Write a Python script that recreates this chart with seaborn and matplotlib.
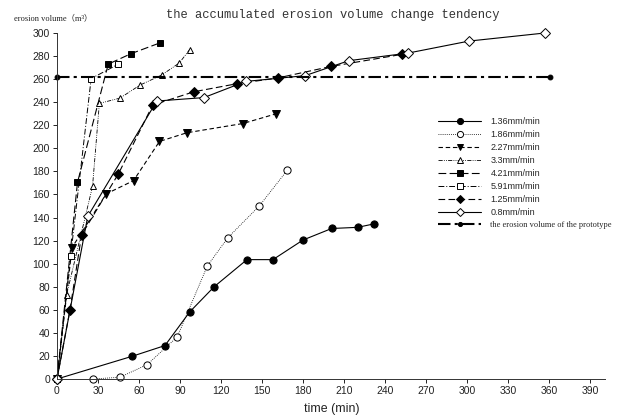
import numpy as np
import pandas as pd
import matplotlib
matplotlib.use("Agg")
import matplotlib.pyplot as plt
import seaborn as sns

# Accumulated erosion volume (m^3) against time (min) for each erosion rate
t_136 = [0, 55, 79, 97, 115, 139, 158, 180, 201, 220, 232]
v_136 = [0, 19.7, 29, 58, 80, 103.5, 103.5, 120.5, 130.5, 131.5, 134.5]

t_186 = [26, 46, 66, 88, 110, 125, 148, 168.5]
v_186 = [0, 1.5, 12.5, 36.5, 98, 122.5, 150, 181]

t_227 = [0, 11, 36, 56, 75, 95, 136, 160.5]
v_227 = [0, 114, 160.5, 172, 206, 213.5, 221.5, 230]

t_33 = [0, 7, 26, 31, 46, 61, 76.5, 89.5, 97]
v_33 = [0, 73, 167, 239, 243.5, 255, 263.5, 274, 285.5]

t_421 = [0, 15, 37.5, 54, 75.5]
v_421 = [0, 170.5, 273, 282, 291.5]

t_591 = [0, 10, 25, 45]
v_591 = [0, 107, 260.5, 273]

t_125 = [0, 9.5, 18, 45, 70, 100, 131.5, 161.5, 200.5, 252.5]
v_125 = [0, 60, 125, 178, 237.5, 249, 256, 261, 271, 281.5]

t_08 = [0, 22.5, 73, 107.5, 138, 181.5, 213.5, 256.5, 301.5, 357]
v_08 = [0, 141, 241, 244, 258, 263, 276, 282.5, 293, 300]

t_proto = [0, 361]
v_proto = [262, 262]

labels = ["1.36mm/min", "1.86mm/min", "2.27mm/min", "3.3mm/min", "4.21mm/min",
          "5.91mm/min", "1.25mm/min", "0.8mm/min",
          "the erosion volume of the prototype"]

x_ticks = list(range(0, 391, 30))
y_ticks = list(range(0, 301, 20))

series = [
    (t_136, v_136, dict(marker="o", ms=5.2, mfc="black", ls="-")),
    (t_186, v_186, dict(marker="o", ms=5.2, mfc="white", ls=(0, (1, 1.5)), lw=0.6)),
    (t_227, v_227, dict(marker="v", ms=5.2, mfc="black", ls=(0, (4, 2.5)))),
    (t_33, v_33, dict(marker="^", ms=4.8, mfc="white", ls=(0, (5, 1.5, 1, 1.5, 1, 1.5)), lw=0.6)),
    (t_421, v_421, dict(marker="s", ms=4.6, mfc="black", ls=(0, (7, 3)))),
    (t_591, v_591, dict(marker="s", ms=4.6, mfc="white", ls=(0, (6, 2, 1, 2)), lw=0.7)),
    (t_125, v_125, dict(marker="D", ms=4.6, mfc="black", ls=(0, (6, 3)))),
    (t_08, v_08, dict(marker="D", ms=4.6, mfc="white", ls="-")),
    (t_proto, v_proto, dict(marker="o", ms=3.5, mfc="black", ls=(0, (6, 2, 1.5, 2)), lw=1.5)),
]

sns.set_style("ticks")
plt.rcParams["font.family"] = ["Liberation Sans", "DejaVu Sans"]

fig = plt.figure(figsize=(6.24, 4.17), dpi=100)
ax = fig.add_axes([57 / 624, 1 - 379 / 417, (605 - 57) / 624, (379 - 33) / 417])

for (tx, vy, st), lab in zip(series, labels):
    df = pd.DataFrame({"time": tx, "volume": vy})
    sns.lineplot(data=df, x="time", y="volume", ax=ax, sort=False,
                 estimator=None, errorbar=None, color="black",
                 linestyle=st["ls"], linewidth=st.get("lw", 0.8),
                 marker=st["marker"], markersize=st["ms"],
                 markerfacecolor=st["mfc"], markeredgecolor="black",
                 markeredgewidth=0.7, clip_on=False, label=lab)

ax.set_xlim(0, 401)
ax.set_ylim(0, 300)
ax.set_xticks(x_ticks)
ax.set_yticks(y_ticks)
ax.tick_params(axis="both", labelsize=7.5, length=3, width=0.7,
               colors="#222222", pad=2)
for s in ("top", "right"):
    ax.spines[s].set_visible(False)
for s in ("left", "bottom"):
    ax.spines[s].set_linewidth(0.7)
    ax.spines[s].set_color("#333333")
ax.set_xlabel("")
ax.set_ylabel("")

handles, hl = ax.get_legend_handles_labels()
leg = ax.legend(handles, hl, loc="upper left", bbox_to_anchor=(438 / 624, 1 - 117 / 417),
                bbox_transform=fig.transFigure, frameon=False, fontsize=6.5,
                handlelength=4.8, handletextpad=1.0, labelspacing=0.44,
                borderpad=0, borderaxespad=0, markerscale=0.85)
leg.get_texts()[-1].set_family(["Liberation Serif", "DejaVu Serif"])
leg.get_texts()[-1].set_fontsize(6)

fig.text(333 / 624, 1 - 15 / 417, "the accumulated erosion volume change tendency",
         ha="center", va="center", fontsize=8.7, color="#333333",
         family=["Liberation Mono", "DejaVu Sans Mono"])
fig.text(14 / 624, 1 - 18 / 417, "erosion volume（m³）", ha="left", va="center",
         fontsize=6, color="#222222",
         family=["Liberation Serif", "Noto Sans CJK SC"])
fig.text(332 / 624, 1 - 409 / 417, "time (min)", ha="center", va="center",
         fontsize=8.9, color="#222222")

fig.savefig("out.png", dpi=100)
